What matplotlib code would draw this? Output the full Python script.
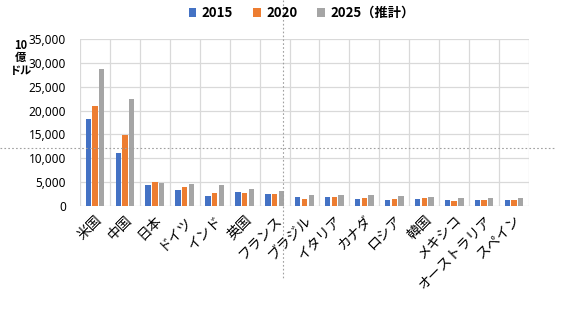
import matplotlib
matplotlib.use("Agg")
import matplotlib.pyplot as plt
from matplotlib.lines import Line2D
import numpy as np

plt.rcParams['font.family'] = ['Noto Sans CJK JP', 'DejaVu Sans']

countries = ["米国", "中国", "日本", "ドイツ", "インド", "英国", "フランス", "ブラジル",
             "イタリア", "カナダ", "ロシア", "韓国", "メキシコ", "オーストラリア", "スペイン"]
v2015 = [18200, 11100, 4450, 3350, 2100, 3000, 2450, 1800, 1830, 1560, 1360, 1470, 1170, 1230, 1200]
v2020 = [21000, 14950, 5100, 3900, 2650, 2800, 2600, 1450, 1890, 1640, 1480, 1640, 1080, 1330, 1280]
v2025 = [28650, 22400, 4750, 4600, 4450, 3550, 3150, 2300, 2250, 2250, 2100, 1900, 1750, 1750, 1600]
series_labels = ["2015", "2020", "2025（推計）"]
colors = ["#4472C4", "#ED7D31", "#A5A5A5"]
yticks = [0, 5000, 10000, 15000, 20000, 25000, 30000, 35000]

fig = plt.figure(figsize=(5.8, 3.25), dpi=100)
ax = fig.add_axes([0.138, 0.366, 0.774, 0.514])

x = np.arange(len(countries))
w = 0.18
off = 0.225
for i, (vals, lab, c) in enumerate(zip([v2015, v2020, v2025], series_labels, colors)):
    ax.bar(x + (i - 1) * off, vals, width=w, color=c, label=lab, zorder=3)

ax.set_xlim(-0.5, len(countries) - 0.5)
ax.set_ylim(0, 35000)
ax.set_yticks(yticks)
ax.set_yticklabels([f"{v:,}" for v in yticks], fontsize=8.5, fontweight='bold',
                   family=['Noto Sans'])
ax.set_xticks(x)
ax.set_xticklabels(countries, rotation=45, ha='right', rotation_mode='anchor', fontsize=10)
ax.tick_params(axis='both', length=0)
ax.tick_params(axis='y', pad=10)
ax.tick_params(axis='x', pad=5)

# grid
for yv in yticks:
    ax.axhline(yv, color='#d9d9d9', lw=0.9, zorder=1)
for xb in np.arange(-0.5, len(countries), 1.0):
    ax.axvline(xb, color='#d9d9d9', lw=0.9, zorder=1)
for s in ax.spines.values():
    s.set_visible(False)

fig.text(0.036, 1 - 58/325, "10\n億\nドル", fontsize=8, fontweight='bold', ha='center', va='center',
         linespacing=0.95)

leg = fig.legend(loc='center', bbox_to_anchor=(0.52, 0.96), ncol=3, frameon=False,
                 handlelength=0.6, handleheight=0.6, handletextpad=0.4,
                 columnspacing=1.5, prop={'weight': 'bold', 'size': 9.5})

# dotted crosshair lines
fig.add_artist(Line2D([283/580, 283/580], [1.0, 1 - 280/325], transform=fig.transFigure,
                      color='#a0a0a0', lw=0.8, ls=(0, (1.5, 2))))
fig.add_artist(Line2D([0, 555/580], [1 - 148/325, 1 - 148/325], transform=fig.transFigure,
                      color='#a0a0a0', lw=0.8, ls=(0, (1.5, 2))))

fig.savefig("out.png", dpi=100)
